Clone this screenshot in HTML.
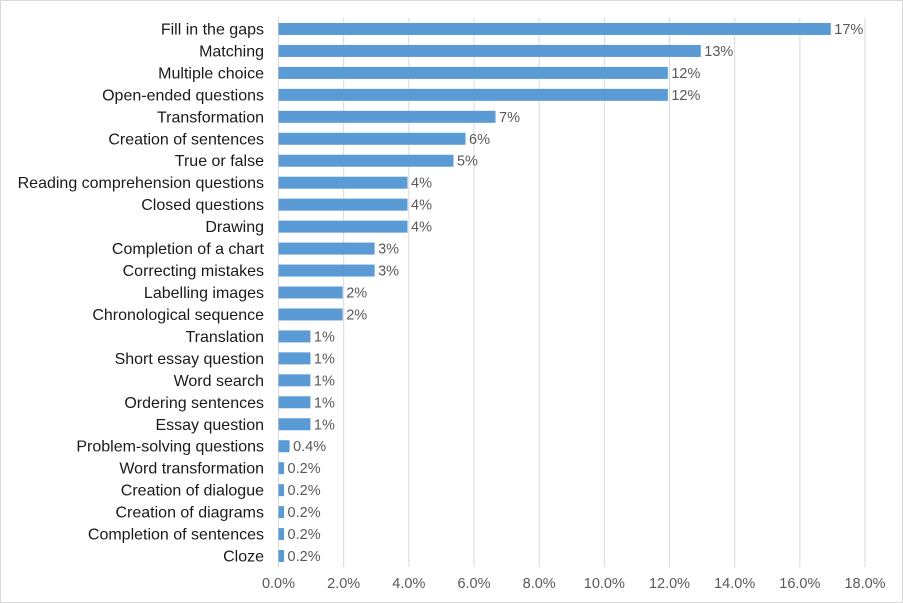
<!DOCTYPE html>
<html><head><meta charset="utf-8"><style>
body{margin:0;background:#fff}
svg{display:block;font-family:"Liberation Sans",Arial,sans-serif}
</style></head><body>
<svg id="c" width="903" height="603">
<rect x="0.5" y="0.5" width="902" height="602" fill="#fff" stroke="#d9d9d9"/>
</svg>
<script>
const categories=["Fill in the gaps","Matching","Multiple choice","Open-ended questions","Transformation","Creation of sentences","True or false","Reading comprehension questions","Closed questions","Drawing","Completion of a chart","Correcting mistakes","Labelling images","Chronological sequence","Translation","Short essay question","Word search","Ordering sentences","Essay question","Problem-solving questions","Word transformation","Creation of dialogue","Creation of diagrams","Completion of sentences","Cloze"];
const values=[16.95,12.96,11.95,11.95,6.66,5.74,5.37,3.96,3.96,3.96,2.95,2.95,1.97,1.97,0.98,0.98,0.98,0.98,0.98,0.34,0.17,0.17,0.17,0.17,0.17];
const valueLabels=["17%","13%","12%","12%","7%","6%","5%","4%","4%","4%","3%","3%","2%","2%","1%","1%","1%","1%","1%","0.4%","0.2%","0.2%","0.2%","0.2%","0.2%"];
const ticks=[0,2,4,6,8,10,12,14,16,18];
const tickLabels=["0.0%","2.0%","4.0%","6.0%","8.0%","10.0%","12.0%","14.0%","16.0%","18.0%"];
const svg=document.getElementById('c');const NS="http://www.w3.org/2000/svg";
const x0=278.5,x1=865,yTop=18,yBot=567;
const xs=v=>x0+(v/18)*(x1-x0);
const band=(yBot-yTop)/categories.length;
const ys=i=>yTop+band*i+band/2;
function mk(t,a,txt){const e=document.createElementNS(NS,t);for(const k in a)e.setAttribute(k,a[k]);if(txt!=null)e.textContent=txt;svg.appendChild(e);return e;}
ticks.forEach((t,i)=>{
 if(i>0){const g=mk('line',{x1:xs(t),x2:xs(t),y1:yTop,y2:yBot,stroke:'#d9d9d9','stroke-width':1});
 
 }
 const l=mk('text',{x:xs(t),y:588,'text-anchor':'middle','font-size':14.5,fill:'#595959'},tickLabels[i]);
 
 
});
const ax=mk('line',{x1:x0,x2:x0,y1:yTop,y2:yBot,stroke:'#d9d9d9','stroke-width':1});


categories.forEach((c,i)=>{
 const y=ys(i);
 const cl=mk('text',{x:264,y:y+5.5,'text-anchor':'end','font-size':16,fill:'#1a1a1a'},c);
 
 
 const b=mk('rect',{x:x0,y:y-6,width:xs(values[i])-x0,height:12,fill:'#5b9bd5'});
 
 
 const vl=mk('text',{x:xs(values[i])+3.5,y:y+5,'font-size':14.5,fill:'#595959'},valueLabels[i]);
 
 
});
</script>
</body></html>
